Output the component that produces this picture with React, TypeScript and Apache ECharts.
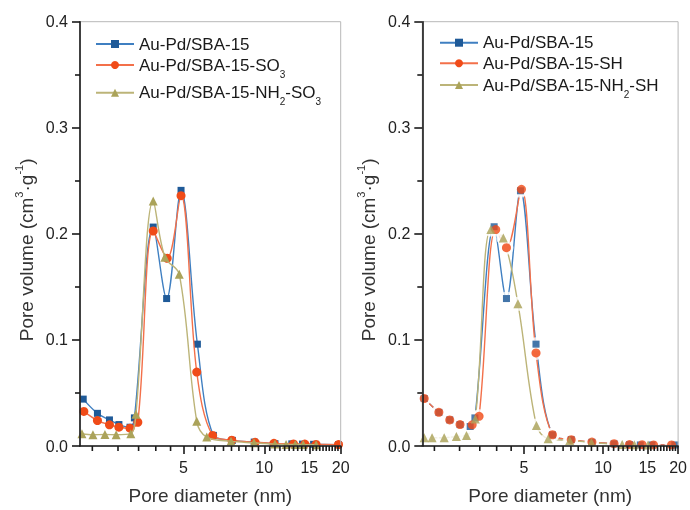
import React, { useEffect, useRef } from "react";
import * as echarts from "echarts";

// ---- axis definitions ----
// The pore-diameter axis of the figure is logarithmic in (d - X_SHIFT)
const X_SHIFT = 0.7;
const X_MIN = 2.3;
const X_MAX = 20;
const X_MAJOR = [5, 10, 15, 20];
const X_MINOR = [2.5, 3, 3.5, 4, 4.5, 5.5, 6, 6.5, 7, 7.5, 8, 8.5, 9, 9.5, 10.5, 11, 11.5, 12, 12.5, 13, 13.5, 14, 14.5, 15.5, 16, 16.5, 17, 17.5, 18, 18.5, 19, 19.5];
const Y_MIN = 0;
const Y_MAX = 0.4;
const Y_STEP = 0.1;

// ---- left panel (SO3) ----
const dL0 = [2.35, 2.59, 2.82, 3.02, 3.28, 3.39, 3.92, 4.36, 4.9, 5.61, 6.42, 7.56, 9.15, 11.0, 12.8, 14.1, 15.6, 19.6];
const vL0 = [0.0442, 0.0308, 0.0246, 0.0202, 0.0177, 0.0265, 0.2064, 0.139, 0.241, 0.096, 0.01, 0.0053, 0.0037, 0.0022, 0.002, 0.0018, 0.0016, 0.0013];
const dL1 = [2.36, 2.59, 2.82, 3.02, 3.28, 3.48, 3.92, 4.38, 4.9, 5.58, 6.38, 7.52, 9.22, 10.9, 13.0, 14.4, 15.96, 19.6];
const vL1 = [0.0326, 0.024, 0.02, 0.0177, 0.0168, 0.0224, 0.2027, 0.177, 0.236, 0.0697, 0.01, 0.0055, 0.0035, 0.0025, 0.002, 0.0018, 0.0015, 0.0013];
const dL2 = [2.33, 2.51, 2.73, 2.96, 3.3, 3.43, 3.92, 4.3, 4.83, 5.58, 6.07, 7.47, 9.13, 11.0, 12.15, 13.2, 14.2, 15.96];
const vL2 = [0.0116, 0.0106, 0.0109, 0.0106, 0.0116, 0.03, 0.231, 0.178, 0.162, 0.0233, 0.0084, 0.0044, 0.003, 0.0018, 0.0015, 0.0014, 0.0013, 0.0012];

// ---- right panel (SH) ----
const dR0 = [2.33, 2.58, 2.79, 3.01, 3.25, 3.37, 3.92, 4.33, 4.86, 5.54, 6.38, 7.52, 9.04, 11.05, 12.72, 14.06, 15.65, 19.39];
const vR0 = [0.0448, 0.0317, 0.0246, 0.0202, 0.0184, 0.0265, 0.2067, 0.139, 0.2406, 0.096, 0.0105, 0.006, 0.0035, 0.002, 0.0013, 0.001, 0.001, 0.001];
const dR1 = [2.33, 2.58, 2.79, 3.01, 3.3, 3.48, 3.97, 4.33, 4.9, 5.54, 6.38, 7.52, 9.04, 11.05, 12.72, 14.3, 15.9, 18.81];
const vR1 = [0.0448, 0.0317, 0.0246, 0.0202, 0.02, 0.028, 0.204, 0.187, 0.242, 0.0877, 0.0106, 0.006, 0.0037, 0.0022, 0.0013, 0.0012, 0.001, 0.001];
const dR2 = [2.33, 2.46, 2.68, 2.93, 3.16, 3.38, 3.82, 4.22, 4.76, 5.56, 6.15, 7.42, 9.0, 11.9, 13.3, 15.1];
const vR2 = [0.0078, 0.0078, 0.0078, 0.009, 0.01, 0.0255, 0.204, 0.196, 0.134, 0.0193, 0.0069, 0.0053, 0.0033, 0.0013, 0.0012, 0.001];

const LABELS: Record<string, string> = {
  L0: "Au-Pd/SBA-15",
  L1: "Au-Pd/SBA-15-SO{sub|3}",
  L2: "Au-Pd/SBA-15-NH{sub|2}-SO{sub|3}",
  R0: "Au-Pd/SBA-15",
  R1: "Au-Pd/SBA-15-SH",
  R2: "Au-Pd/SBA-15-NH{sub|2}-SH",
};
const X_NAME = "Pore diameter (nm)";
const Y_NAME = "Pore volume (cm{sup|3}·g{sup|-1})";

const FONT = "Liberation Sans, Arial, Helvetica, sans-serif";
const STYLES = [
  { symbol: "rect", size: 7, mk: "#1f5a98", ln: "#3f7fc1" },
  { symbol: "circle", size: 9, mk: "#f04b18", ln: "#f3704a" },
  { symbol: "triangle", size: 9, mk: "#aba35a", ln: "#bcb478" },
];

const pairs = (d: number[], v: number[]) => d.map((x, i) => [x - X_SHIFT, v[i]]);

export default function App() {
  const ref = useRef<HTMLDivElement>(null);
  useEffect(() => {
    if (!ref.current) return;
    const chart = echarts.init(ref.current, null, { renderer: "svg" });
    const axisColor = "#1a1a1a";
    const grids = [
      { left: 80, top: 21.7, width: 260.7, height: 429 },
      { left: 422.3, top: 21.7, width: 259.4, height: 429 },
    ].map((g) => ({ ...g, show: true, borderColor: "#b8b8b8", borderWidth: 1, z: 6 }));

    const xAxes: any[] = [];
    const yAxes: any[] = [];
    [0, 1].forEach((gi) => {
      xAxes.push({
        type: "log",
        logBase: 10,
        gridIndex: gi,
        position: "bottom",
        min: X_MIN - X_SHIFT,
        max: X_MAX - X_SHIFT,
        z: 7,
        axisLine: { show: true, lineStyle: { color: axisColor, width: 1.6 } },
        axisTick: { show: true, inside: false, length: 8, customValues: X_MAJOR.map((v) => v - X_SHIFT), lineStyle: { color: axisColor, width: 1.6 } },
        axisLabel: {
          show: true,
          customValues: X_MAJOR.map((v) => v - X_SHIFT),
          formatter: (v: number) => String(Math.round(v + X_SHIFT)),
          fontSize: 16,
          color: "#222",
          margin: 13,
          fontFamily: FONT,
        },
        splitLine: { show: false },
        minorTick: { show: false },
        name: X_NAME,
        nameLocation: "middle",
        nameGap: 40,
        nameTextStyle: { fontSize: 19, color: "#333", fontFamily: FONT },
      });
      yAxes.push({
        type: "value",
        gridIndex: gi,
        min: Y_MIN,
        max: Y_MAX,
        interval: Y_STEP,
        z: 7,
        axisLine: { show: true, lineStyle: { color: axisColor, width: 1.6 } },
        axisTick: { show: true, inside: false, length: 8, lineStyle: { color: axisColor, width: 1.6 } },
        minorTick: { show: true, splitNumber: 2, length: 5, lineStyle: { color: axisColor, width: 1.6 } },
        axisLabel: { formatter: (v: number) => v.toFixed(1), fontSize: 16, color: "#222", margin: 12, fontFamily: FONT },
        splitLine: { show: false },
        minorSplitLine: { show: false },
        name: Y_NAME,
        nameLocation: "middle",
        nameGap: 41,
        nameTextStyle: {
          fontSize: 19,
          color: "#333",
          fontFamily: FONT,
          lineHeight: 26,
          padding: [0, 32, 0, 0],
          rich: { sup: { fontSize: 11, lineHeight: 11, verticalAlign: "top", color: "#333", fontFamily: FONT } },
        },
      });
    });

    const series: any[] = [];

    // minor x-axis ticks, placed through the axis scale (api.coord)
    [0, 1].forEach((gi) => {
      series.push({
        type: "custom",
        name: "minorTicks",
        xAxisIndex: gi,
        yAxisIndex: gi,
        clip: false,
        silent: true,
        z: 8,
        data: X_MINOR.map((v) => [v - X_SHIFT, Y_MIN]),
        renderItem: (_p: any, api: any) => {
          const pt = api.coord([api.value(0), api.value(1)]);
          return {
            type: "line",
            shape: { x1: pt[0], y1: pt[1], x2: pt[0], y2: pt[1] + 5 },
            style: { stroke: axisColor, lineWidth: 1.6 },
          };
        },
      });
    });

    const leftData = [pairs(dL0, vL0), pairs(dL1, vL1), pairs(dL2, vL2)];
    leftData.forEach((data, k) => {
      const s = STYLES[k];
      series.push({
        type: "line",
        name: "L" + k,
        xAxisIndex: 0,
        yAxisIndex: 0,
        data,
        smooth: 0.35,
        symbol: s.symbol,
        symbolSize: s.size,
        showSymbol: true,
        itemStyle: { color: s.mk },
        lineStyle: { color: s.ln, width: 1.4 },
        z: 2 + k,
      });
    });
    const rightData = [pairs(dR0, vR0), pairs(dR1, vR1), pairs(dR2, vR2)];
    rightData.forEach((data, k) => {
      const s = STYLES[k];
      series.push({
        type: "line",
        name: "R" + k,
        xAxisIndex: 1,
        yAxisIndex: 1,
        data,
        smooth: 0.35,
        symbol: s.symbol,
        symbolSize: s.size,
        showSymbol: true,
        itemStyle: { color: s.mk },
        lineStyle: { color: s.ln, width: 1.4 },
        z: 2,
      });
    });
    rightData.forEach((data, k) => {
      series.push({
        type: "scatter",
        name: "halo" + k,
        xAxisIndex: 1,
        yAxisIndex: 1,
        data,
        symbol: "circle",
        symbolSize: 14,
        itemStyle: { color: "#ffffff" },
        silent: true,
        z: 3,
      });
    });
    rightData.forEach((data, k) => {
      const s = STYLES[k];
      series.push({
        type: "scatter",
        name: "mk" + k,
        xAxisIndex: 1,
        yAxisIndex: 1,
        data,
        symbol: s.symbol,
        symbolSize: s.size,
        itemStyle: { color: s.mk },
        silent: true,
        z: 4,
      });
    });

    const legendPos: [string, number, number][] = [
      ["L0", 95, 44],
      ["L1", 95, 65],
      ["L2", 95, 92.7],
      ["R0", 439, 42.7],
      ["R1", 439, 63.3],
      ["R2", 439, 85],
    ];
    const LH = 28;
    const legends = legendPos.map(([name, left, cy]) => ({
      data: [name],
      left,
      top: cy - LH / 2,
      padding: 0,
      itemWidth: 38,
      itemHeight: 10,
      selectedMode: false,
      formatter: () => LABELS[name],
      textStyle: {
        fontSize: 17,
        color: "#1a1a1a",
        fontFamily: FONT,
        lineHeight: LH,
        rich: { sub: { fontSize: 10, lineHeight: 10, verticalAlign: "bottom", color: "#1a1a1a", fontFamily: FONT } },
      },
    }));

    chart.setOption({
      animation: false,
      textStyle: { fontFamily: FONT },
      grid: grids,
      xAxis: xAxes,
      yAxis: yAxes,
      legend: legends,
      series,
    });
    return () => chart.dispose();
  }, []);
  return <div ref={ref} style={{ position: "fixed", left: 0, top: 0, width: 690, height: 510 }} />;
}
